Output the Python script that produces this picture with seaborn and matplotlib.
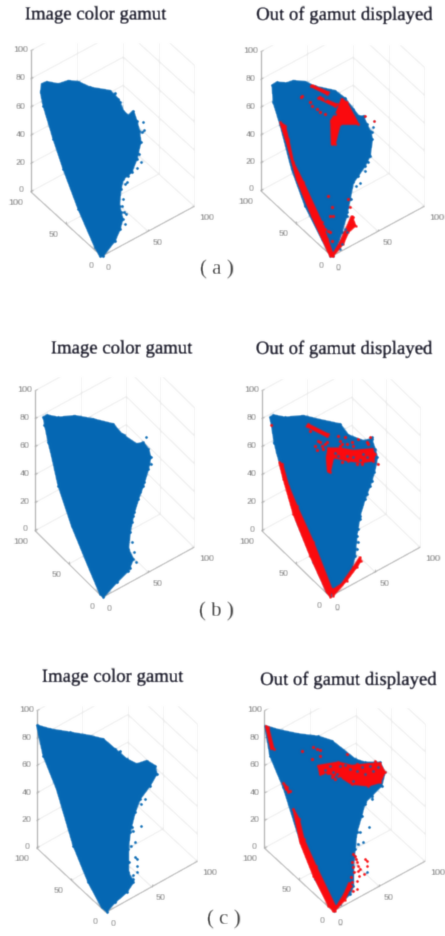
import numpy as np
import pandas as pd
import seaborn as sns
import matplotlib.pyplot as plt
import matplotlib.patheffects as pe

sns.set_style('white')
plt.rcParams['font.family'] = ['DejaVu Sans']

BLUE = '#0567b3'
RED = '#fb0a0e'
AXIS_GREY = '#a0a0a0'
GRID_GREY = '#e6e6e6'
TICK_GREY = '#555555'
W, H = 445, 937

a_blue_x = [125,140,175,205,235,270,330,355,370,385,400,410,418,422,410,395,370,362,358,368,360,345,310,300,285,235,190,160,130,122]
a_blue_y = [255,248,255,245,248,265,275,300,335,350,335,365,395,430,480,520,540,570,620,660,690,725,770,772,745,630,510,420,320,280]
a_stray_x = [430,432,425,423,410,385,375,380,372,375,365,378,345,360,375,412,418,368,364,128,136]
a_stray_y = [368,392,400,490,507,530,555,548,640,675,620,645,282,310,345,440,465,600,640,300,310]

b_blue_x = [142,155,185,205,240,270,330,360,385,400,415,425,435,442,435,420,400,385,375,365,350,325,315,290,240,200,165,145]
b_blue_y = [258,250,252,245,248,262,275,298,330,350,352,375,395,420,470,500,530,550,600,650,700,770,770,720,620,510,375,310]
b_stray_x = [440,447,445,418,405,392,382,378,365,430,420,390,376]
b_stray_y = [398,367,385,350,552,560,545,600,640,488,515,535,575]
b_red1_x = [165,180,190,205,235,290,325,315,260,215,185]
b_red1_y = [370,380,420,490,550,670,770,772,650,540,430]
b_red2_x = [320,345,380,392,370,355,325]
b_red2_y = [772,730,650,680,700,735,770]
b_red3_x = [350,365,400,345,330,320,318,335]
b_red3_y = [300,310,375,375,435,435,365,340]
b_red4_x = [258,262,310,306]
b_red4_y = [262,258,280,286]
b_red5_x = [280,284,335,330]
b_red5_y = [298,294,316,322]
b_spot_x = [228,255,285,420,447,320,310,315,325,370,295,300,310,320,305,232,262,275,300,315,375,385]
b_spot_y = [295,310,340,352,367,625,590,650,650,600,680,690,695,725,720,292,322,330,345,700,625,655]
b_gap_x = [345,340,355,330,350,325,360,340,345,320,300,330,365]
b_gap_y = [690,720,660,735,735,745,690,700,750,690,300,345,700]

c_blue_x = [130,140,175,225,280,340,365,410,430,445,452,445,430,415,400,390,385,400,385,350,310,300,260,215,175,155,145,135]
c_blue_y = [265,258,265,260,270,285,315,345,340,360,385,420,470,510,560,610,660,690,725,760,805,795,700,590,470,380,340,290]
c_stray_x = [438,452,390,402,132,147,432,420,407,395,396,402,408,372]
c_stray_y = [323,405,718,550,288,342,460,490,520,580,640,668,700,318]

d_blue_x = [135,145,180,235,285,345,370,415,440,450,457,448,435,420,405,395,390,380,345,315,305,265,215,175,155,148,140]
d_blue_y = [265,258,265,260,272,285,318,335,330,360,385,430,470,510,560,620,680,720,765,800,790,700,580,440,370,340,290]
d_stray_x = [442,147,405,400,440,425,412,400,395]
d_stray_y = [323,342,570,640,455,495,525,600,660]
d_red1_x = [162,172,190,215,265,320,315,305,255,205,175]
d_red1_y = [400,405,470,530,640,780,803,790,680,555,450]
d_red2_x = [320,350,385,405,408,395,365,325]
d_red2_y = [785,765,715,683,695,715,755,800]
d_red3_x = [310,345,385,440,450,445,410,370,325,315,308,305]
d_red3_y = [358,358,365,360,375,395,400,395,385,430,425,385]
d_red4_x = [245,250,310,305]
d_red4_y = [292,286,316,322]
d_spot_x = [340,400,435,460,138,390,255,345,360,380,425,410,395,350,280,290,270,285,300,275,295,305,345,350,365,385,430]
d_spot_y = [320,330,325,405,288,715,305,350,325,340,340,405,405,400,335,352,350,340,345,362,360,338,335,345,345,350,345]
d_gap_x = [340,365,385,405,425,415,330]
d_gap_y = [380,382,385,392,385,375,372]

e_blue_x = [110,150,210,270,310,345,380,410,440,465,470,450,420,405,390,385,385,400,380,345,320,305,265,220,170,130]
e_blue_y = [198,210,220,230,240,270,300,315,305,320,345,380,420,460,520,570,640,670,700,730,758,745,670,560,390,290]
e_stray_x = [435,422,422,400,405,392,410,405,410,400,412,398,388,395,382,360,350]
e_stray_y = [420,435,500,515,548,560,600,595,620,660,640,648,610,505,540,275,282]

f_blue_x = [120,160,220,280,320,355,390,420,465,480,470,440,420,410,395,390,385,385,375,345,328,310,270,225,175,135]
f_blue_y = [200,212,225,232,245,272,300,310,310,340,380,410,430,470,520,570,620,680,705,735,757,735,660,545,385,290]
f_stray_x = [440,420,432,405,415,425,400]
f_stray_y = [420,435,505,520,548,640,555]
f_red1_x = [122,130,146,138]
f_red1_y = [200,205,270,268]
f_red2_x = [175,187,190,182]
f_red2_y = [372,385,398,390]
f_red3_x = [205,222,236,272,330,325,310,265,225]
f_red3_y = [450,480,540,620,740,757,740,650,550]
f_red4_x = [330,360,378,372,358,335]
f_red4_y = [755,722,680,672,705,742]
f_red5_x = [280,340,380,430,465,480,465,430,380,340,320,285]
f_red5_y = [320,310,320,315,312,340,370,380,375,350,345,345]
f_spot_x = [265,285,230,260,285,320,325,195,420,425,365,395,418,425,275,300,330,450,385,392,398,388,402,395,382,378,405,372,395,390,385,395,400,380,385]
f_spot_y = [265,272,275,300,290,355,350,395,600,605,285,315,645,620,270,330,360,305,585,600,620,640,650,665,610,655,630,690,690,590,625,610,635,670,695]
f_gap_x = [300,315,325,345,360,375,395,410,435,345,355,335,385,420,445,300,460]
f_gap_y = [332,322,340,322,318,330,335,325,322,358,365,345,365,345,335,345,325]

z_ticks = [0, 20, 40, 60, 80, 100]


def soft_edges(img, dpi):
    # the reference is a scaled-up screenshot, so smear everything slightly
    pad = 4
    kernel = np.array([0.02, 0.2, 0.56, 0.2, 0.02])
    out = np.pad(img, ((pad, pad), (pad, pad), (0, 0)))
    out = np.apply_along_axis(lambda v: np.convolve(v, kernel, mode='same'), 0, out)
    out = np.apply_along_axis(lambda v: np.convolve(v, kernel, mode='same'), 1, out)
    return out, -pad, -pad


def make_axes(x0, y0, w, h, clip_top):
    # axes spans one crop of the picture, data units are 1/3 px
    ax = fig.add_axes([x0 / W, 1 - (y0 + h) / H, w / W, (h - clip_top / 3) / H])
    ax.set_xlim(0, w * 3)
    ax.set_ylim(h * 3, clip_top)
    ax.axis('off')
    ax.set_agg_filter(soft_edges)
    return ax


def tick_text(ax, x, y, label):
    ax.text(x, y, label, family='Liberation Sans', fontsize=6.4, color=TICK_GREY,
            ha='center', va='center', clip_on=False)


def draw_box(ax, L, ztop, O, R):
    B = (L[0] + R[0] - O[0], L[1] + R[1] - O[1])
    height = L[1] - ztop
    # walls
    for z in z_ticks[1:]:
        dz = height * z / 100
        ax.plot([L[0], B[0], R[0]], [L[1] - dz, B[1] - dz, R[1] - dz], color=GRID_GREY, lw=0.7)
    for c in (L, B, R):
        ax.plot([c[0], c[0]], [c[1], c[1] - height], color=GRID_GREY, lw=0.7)
    m1 = ((L[0] + B[0]) / 2, (L[1] + B[1]) / 2)
    m2 = ((B[0] + R[0]) / 2, (B[1] + R[1]) / 2)
    m3 = ((L[0] + O[0]) / 2, (L[1] + O[1]) / 2)
    m4 = ((O[0] + R[0]) / 2, (O[1] + R[1]) / 2)
    for m in (m1, m2):
        ax.plot([m[0], m[0]], [m[1], m[1] - height], color=GRID_GREY, lw=0.7)
    ax.plot([L[0], B[0], R[0]], [L[1], B[1], R[1]], color=GRID_GREY, lw=0.7)
    ax.plot([m1[0], m4[0]], [m1[1], m4[1]], color=GRID_GREY, lw=0.7)
    ax.plot([m2[0], m3[0]], [m2[1], m3[1]], color=GRID_GREY, lw=0.7)
    # front axes
    ax.plot([L[0], L[0]], [L[1], ztop], color=AXIS_GREY, lw=0.8)
    ax.plot([L[0], O[0], R[0]], [L[1], O[1], R[1]], color=AXIS_GREY, lw=0.8)
    for z in z_ticks:
        y = L[1] - height * z / 100
        ax.plot([L[0], L[0] + 8], [y, y - 4], color=AXIS_GREY, lw=0.7)
        tick_text(ax, L[0] - 30, y - 6 if z else y - 8, str(z))
    for m in (m3, m4):
        ax.plot([m[0], m[0]], [m[1], m[1] - 8], color=AXIS_GREY, lw=0.6)
    tick_text(ax, L[0] - 44, L[1] + 29, '100')
    tick_text(ax, m3[0] - 38, m3[1] + 28, '50')
    tick_text(ax, O[0] - 33, O[1] + 25, '0')
    tick_text(ax, O[0] + 20, O[1] + 30, '0')
    tick_text(ax, m4[0] + 28, m4[1] + 30, '50')
    tick_text(ax, R[0] + 37, R[1] + 30, '100')


def draw_dots(ax, xs, ys, color, size, order):
    points = pd.DataFrame({'x': xs, 'y': ys})
    sns.scatterplot(data=points, x='x', y='y', color=color, s=size, linewidth=0, ax=ax, zorder=order, legend=False)
    ax.set_xlabel('')
    ax.set_ylabel('')


def draw_cloud(ax, xs, ys, stray_x, stray_y, color=BLUE, size=5):
    ax.fill(xs, ys, color=color, lw=1.2, zorder=3)
    draw_dots(ax, xs + stray_x, ys + stray_y, color, size, 3)


def draw_red(ax, patches, spot_x, spot_y, gap_x, gap_y):
    for px, py in patches:
        draw_cloud(ax, px, py, [], [], color=RED, size=4)
    draw_dots(ax, spot_x, spot_y, RED, 5, 4)
    draw_dots(ax, gap_x, gap_y, BLUE, 3.5, 5)


def add_title(ax, x, y, label):
    ax.text(x, y, label, family='Liberation Serif', fontsize=13.5, color='#101020',
            ha='center', va='center', clip_on=False,
            path_effects=[pe.withStroke(linewidth=0.25, foreground='#101020')])


def add_caption(ax, x, y, label):
    ax.text(x, y, label, family='Liberation Serif', fontsize=15, color='#222222',
            ha='center', va='center', clip_on=False)


fig = plt.figure(figsize=(W / 100, H / 100), dpi=100, facecolor='white')

ax_a = make_axes(0, 0, 225, 290, 132)
draw_box(ax_a, (92, 578), 155, (305, 772), (583, 622))
draw_cloud(ax_a, a_blue_x, a_blue_y, a_stray_x, a_stray_y)
add_title(ax_a, 287, 48, 'Image color gamut')
add_caption(ax_a, 651, 810, '( a )')

ax_b = make_axes(225, 0, 220, 290, 138)
draw_box(ax_b, (107, 575), 158, (320, 772), (598, 622))
draw_cloud(ax_b, b_blue_x, b_blue_y, b_stray_x, b_stray_y)
draw_red(ax_b, [(b_red1_x, b_red1_y), (b_red2_x, b_red2_y), (b_red3_x, b_red3_y),
                (b_red4_x, b_red4_y), (b_red5_x, b_red5_y)], b_spot_x, b_spot_y, b_gap_x, b_gap_y)
add_title(ax_b, 358, 48, 'Out of gamut displayed')

ax_c = make_axes(0, 330, 225, 300, 145)
draw_box(ax_c, (105, 605), 185, (308, 805), (582, 655))
draw_cloud(ax_c, c_blue_x, c_blue_y, c_stray_x, c_stray_y)
add_title(ax_c, 365, 60, 'Image color gamut')
add_caption(ax_c, 648, 846, '( b )')

ax_d = make_axes(225, 330, 220, 300, 150)
draw_box(ax_d, (110, 605), 185, (315, 803), (585, 655))
draw_cloud(ax_d, d_blue_x, d_blue_y, d_stray_x, d_stray_y)
draw_red(ax_d, [(d_red1_x, d_red1_y), (d_red2_x, d_red2_y), (d_red3_x, d_red3_y),
                (d_red4_x, d_red4_y)], d_spot_x, d_spot_y, d_gap_x, d_gap_y)
add_title(ax_d, 357, 60, 'Out of gamut displayed')

ax_e = make_axes(0, 660, 225, 277, 140)
draw_box(ax_e, (110, 567), 155, (318, 760), (592, 607))
draw_cloud(ax_e, e_blue_x, e_blue_y, e_stray_x, e_stray_y)
add_title(ax_e, 338, 55, 'Image color gamut')
add_caption(ax_e, 672, 780, '( c )')

ax_f = make_axes(225, 660, 220, 277, 148)
draw_box(ax_f, (118, 567), 155, (325, 757), (600, 607))
draw_cloud(ax_f, f_blue_x, f_blue_y, f_stray_x, f_stray_y)
draw_red(ax_f, [(f_red1_x, f_red1_y), (f_red2_x, f_red2_y), (f_red3_x, f_red3_y),
                (f_red4_x, f_red4_y), (f_red5_x, f_red5_y)], f_spot_x, f_spot_y, f_gap_x, f_gap_y)
add_title(ax_f, 370, 63, 'Out of gamut displayed')

fig.savefig('out.png', dpi=100)
